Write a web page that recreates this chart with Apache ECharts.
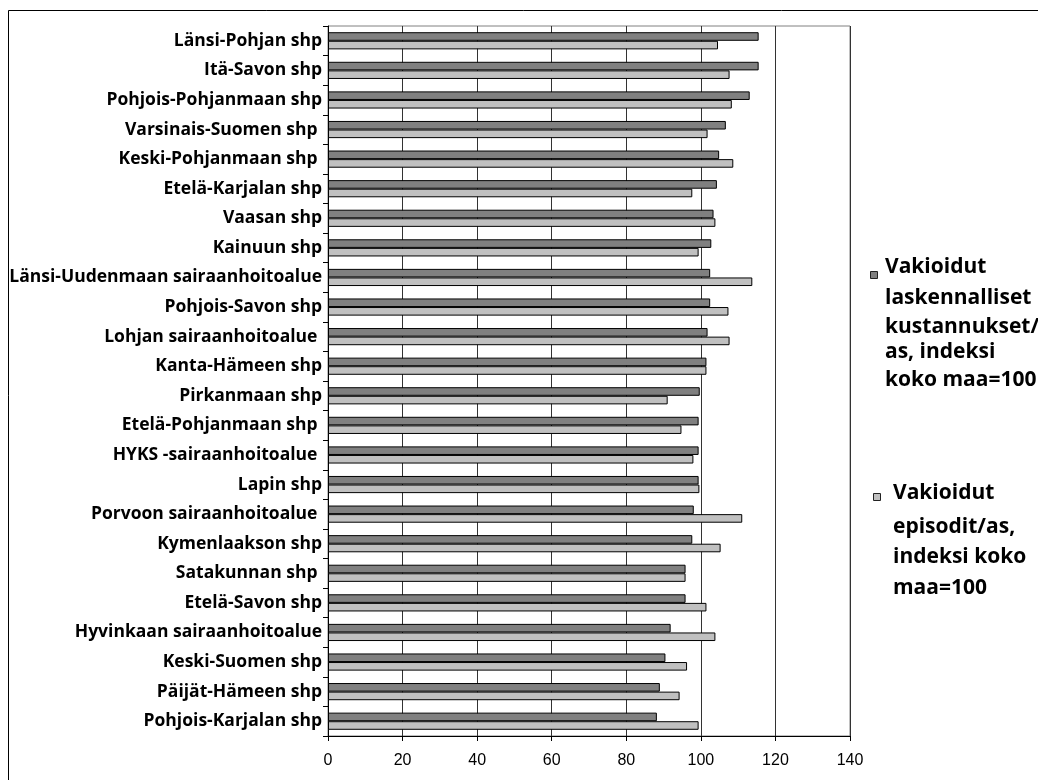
<!DOCTYPE html>
<html>
<head>
<meta charset="utf-8">
<script src="https://cdn.jsdelivr.net/npm/echarts@6/dist/echarts.min.js"></script>
<style>
  html, body { margin: 0; padding: 0; background: #fff; }
  #chart { width: 1038px; height: 780px; }
</style>
</head>
<body>
<div id="chart"></div>
<script>
// Hospital districts, top to bottom
const categories = [
  'Länsi-Pohjan shp', 'Itä-Savon shp', 'Pohjois-Pohjanmaan shp', 'Varsinais-Suomen shp ',
  'Keski-Pohjanmaan shp ', 'Etelä-Karjalan shp', 'Vaasan shp', 'Kainuun shp',
  'Länsi-Uudenmaan sairaanhoitoalue', 'Pohjois-Savon shp', 'Lohjan sairaanhoitoalue ',
  'Kanta-Hämeen shp', 'Pirkanmaan shp', 'Etelä-Pohjanmaan shp ', 'HYKS -sairaanhoitoalue ',
  'Lapin shp', 'Porvoon sairaanhoitoalue ', 'Kymenlaakson shp', 'Satakunnan shp ',
  'Etelä-Savon shp', 'Hyvinkaan sairaanhoitoalue', 'Keski-Suomen shp', 'Päijät-Hämeen shp',
  'Pohjois-Karjalan shp'
];

// Standardised calculated costs per person, index (whole country = 100)
const costIndex = [
  115.5, 115.5, 113.1, 106.7, 104.9, 104.3, 103.4, 102.8, 102.5, 102.5, 101.8, 101.5,
  99.7, 99.4, 99.4, 99.4, 98.1, 97.7, 95.9, 95.9, 91.9, 90.5, 89.0, 88.2
];

// Standardised episodes per person, index (whole country = 100)
const episodeIndex = [
  104.6, 107.7, 108.3, 101.8, 108.7, 97.7, 103.9, 99.4, 113.8, 107.4, 107.7, 101.5,
  91.1, 94.8, 98.0, 99.6, 111.1, 105.3, 95.9, 101.5, 103.9, 96.3, 94.3, 99.4
];

const xTicks = { min: 0, max: 140, step: 20 };

const costLegend = ['Vakioidut', 'laskennalliset', 'kustannukset/', 'as, indeksi', 'koko maa=100'];
const episodeLegend = ['Vakioidut', 'episodit/as,', 'indeksi koko', 'maa=100'];

const chart = echarts.init(document.getElementById('chart'), null, { renderer: 'canvas' });

const labelFont = '"Open Sans", "Noto Sans", sans-serif';

// legend: swatch square plus a stack of text lines
function legendBlock(lines, swatchColor, sx, sy, tx, ys) {
  const els = [{
    type: 'rect',
    shape: { x: sx + 0.5, y: sy + 0.5, width: 7, height: 7 },
    style: { fill: swatchColor, stroke: '#222', lineWidth: 1 }
  }];
  lines.forEach((t, i) => {
    els.push({
      type: 'text',
      x: tx, y: ys[i],
      style: {
        text: t, fill: '#000', font: 'bold 21px ' + labelFont,
        textAlign: 'left', textVerticalAlign: 'middle'
      }
    });
  });
  return els;
}

chart.setOption({
  animation: false,
  backgroundColor: '#fff',
  grid: {
    left: 328, right: 188, top: 26, bottom: 44,
    show: true, borderColor: '#808080', borderWidth: 1, backgroundColor: '#fff'
  },
  xAxis: {
    type: 'value',
    min: xTicks.min, max: xTicks.max, interval: xTicks.step,
    axisLine: { show: true, lineStyle: { color: '#000', width: 1 } },
    axisTick: { show: true, length: 5, lineStyle: { color: '#000' } },
    axisLabel: { color: '#000', fontSize: 16, fontFamily: '"Liberation Sans", Arial, sans-serif', margin: 17 },
    splitLine: { show: true, lineStyle: { color: '#333', width: 1 } }
  },
  yAxis: {
    type: 'category',
    data: categories,
    inverse: true,
    axisLine: { show: true, lineStyle: { color: '#000', width: 1 } },
    axisTick: { show: true, length: 5, lineStyle: { color: '#000' } },
    axisLabel: {
      interval: 0, color: '#000', fontSize: 17.5, fontWeight: 'bold',
      fontFamily: labelFont, margin: 6, padding: [4, 0, 0, 0]
    },
    splitLine: { show: false }
  },
  series: [
    {
      name: costLegend.join(' '),
      type: 'bar',
      data: costIndex,
      barGap: '0%',
      barCategoryGap: '42%',
      itemStyle: { color: '#808080', borderColor: '#000', borderWidth: 1 }
    },
    {
      name: episodeLegend.join(' '),
      type: 'bar',
      data: episodeIndex,
      barGap: '0%',
      barCategoryGap: '42%',
      itemStyle: { color: '#c0c0c0', borderColor: '#000', borderWidth: 1 }
    }
  ],
  graphic: [
    // outer chart frame
    {
      type: 'polyline',
      shape: { points: [[8.5, 790], [8.5, 10.5], [1050, 10.5]] },
      style: { stroke: '#000', lineWidth: 1, fill: null }
    },
    ...legendBlock(costLegend, '#808080', 870, 271, 885, [267, 298, 327, 352, 380]),
    ...legendBlock(episodeLegend, '#c0c0c0', 873, 493, 893, [493.5, 527, 557.5, 588.5])
  ]
});
</script>
</body>
</html>
